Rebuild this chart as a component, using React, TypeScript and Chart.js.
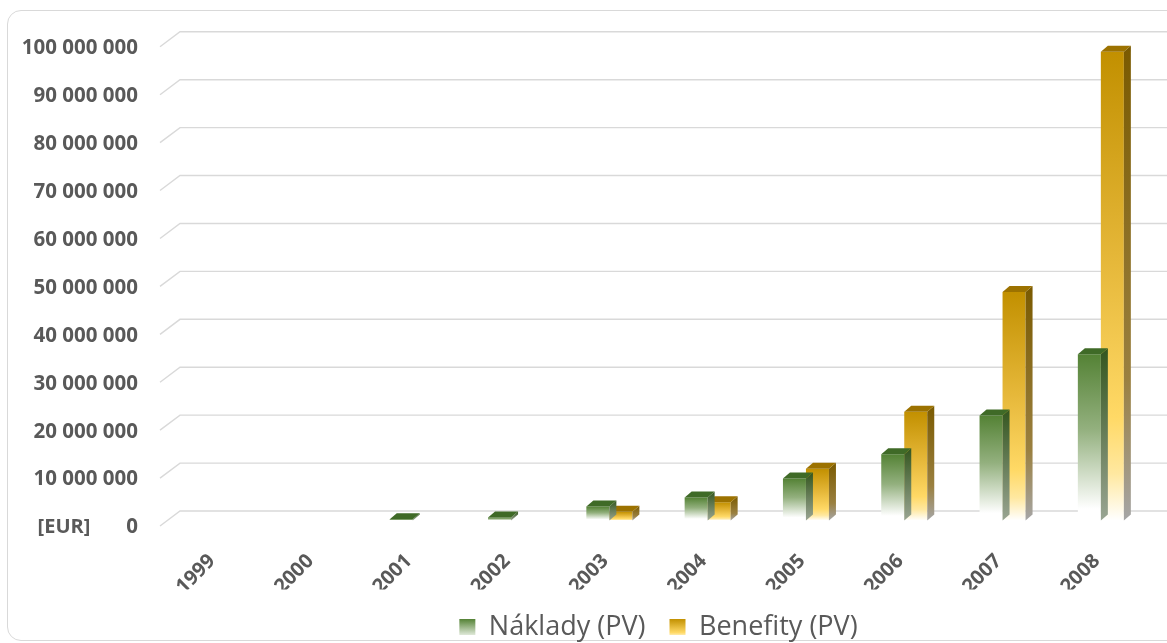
import React, { useEffect, useRef } from "react";
import { Chart, registerables } from "chart.js";

Chart.register(...registerables);

const categories = ["1999", "2000", "2001", "2002", "2003", "2004", "2005", "2006", "2007", "2008"];
const naklady = [0, 0, 250000, 600000, 2900000, 4800000, 8750000, 13800000, 21900000, 34700000];
const benefity = [0, 0, 0, 0, 1800000, 3800000, 10800000, 22700000, 47700000, 97800000];
const seriesNames = ["Náklady (PV)", "Benefity (PV)"];
const axisUnit = "[EUR]";
const yMax = 100000000;
const yStep = 10000000;

const FONT = "'Open Sans', sans-serif";
const TEXT = "#595959";
const DX = 7;
const DY = 6;

const fmt = (v: number) => String(v).replace(/\B(?=(\d{3})+(?!\d))/g, " ");

function frontFill(idx: number) {
  return (c: any) => {
    const chart = c.chart;
    const y = chart.scales && chart.scales.y;
    if (c.type !== "data" || !y || !chart.chartArea) return idx === 0 ? "#548235" : "#E0A800";
    const v = c.parsed ? c.parsed.y : c.raw;
    const top = y.getPixelForValue(v);
    const bot = y.getPixelForValue(0);
    const g = chart.ctx.createLinearGradient(0, top, 0, Math.max(bot, top + 1));
    if (idx === 0) {
      g.addColorStop(0, "#548235");
      g.addColorStop(0.45, "#93b07e");
      g.addColorStop(0.93, "#ffffff");
      g.addColorStop(1, "#ffffff");
    } else {
      g.addColorStop(0, "#C29000");
      g.addColorStop(0.45, "#E6B83A");
      g.addColorStop(0.78, "#FFD966");
      g.addColorStop(0.9, "#FFE8A0");
      g.addColorStop(1, "#FFFFFF");
    }
    return g;
  };
}

const gridPlugin = {
  id: "grid3d",
  beforeDatasetsDraw(chart: any) {
    const { ctx, chartArea, scales } = chart;
    const y = scales.y;
    ctx.save();
    ctx.strokeStyle = "#d9d9d9";
    ctx.lineWidth = 1.4;
    y.ticks.forEach((t: any) => {
      const p = y.getPixelForValue(t.value);
      ctx.beginPath();
      ctx.moveTo(chartArea.left - 7, p + 5.5);
      ctx.lineTo(chartArea.left + 13, p - 9.5);
      ctx.lineTo(chartArea.right + 17, p - 9.5);
      ctx.stroke();
    });
    ctx.restore();
  },
};

const depthPlugin = {
  id: "depth3d",
  afterDatasetDraw(chart: any, args: any) {
    const { ctx } = chart;
    const idx = args.index;
    const meta = args.meta;
    const data = chart.data.datasets[idx].data;
    ctx.save();
    meta.data.forEach((el: any, i: number) => {
      if (!data[i]) return;
      const { x, y, base, width } = el.getProps(["x", "y", "base", "width"], true);
      const l = x - width / 2;
      const r = x + width / 2;
      const sg = ctx.createLinearGradient(0, y - DY, 0, base);
      if (idx === 0) {
        sg.addColorStop(0, "#34561f");
        sg.addColorStop(1, "#9aa592");
      } else {
        sg.addColorStop(0, "#7A5A00");
        sg.addColorStop(0.7, "#9A8040");
        sg.addColorStop(1, "#A6A6A6");
      }
      ctx.fillStyle = sg;
      ctx.beginPath();
      ctx.moveTo(r, y);
      ctx.lineTo(r + DX, y - DY);
      ctx.lineTo(r + DX, base - DY);
      ctx.lineTo(r, base);
      ctx.closePath();
      ctx.fill();
      ctx.fillStyle = idx === 0 ? "#3F6A27" : "#9C7200";
      ctx.beginPath();
      ctx.moveTo(l, y);
      ctx.lineTo(l + DX, y - DY);
      ctx.lineTo(r + DX, y - DY);
      ctx.lineTo(r, y);
      ctx.closePath();
      ctx.fill();
    });
    ctx.restore();
  },
};

const unitPlugin = {
  id: "unitLabel",
  afterDraw(chart: any) {
    const { ctx, scales } = chart;
    ctx.save();
    ctx.font = `bold 20px ${FONT}`;
    ctx.fillStyle = TEXT;
    ctx.textAlign = "center";
    ctx.textBaseline = "middle";
    ctx.fillText(axisUnit, 64, scales.y.getPixelForValue(0) + 7);
    ctx.restore();
  },
};

export default function App() {
  const ref = useRef<HTMLCanvasElement | null>(null);

  useEffect(() => {
    if (!ref.current) return;
    const chart = new Chart(ref.current, {
      type: "bar",
      data: {
        labels: categories,
        datasets: [
          {
            label: seriesNames[0],
            data: naklady,
            backgroundColor: frontFill(0),
            borderWidth: 0,
            categoryPercentage: 0.468,
            barPercentage: 1,
          },
          {
            label: seriesNames[1],
            data: benefity,
            backgroundColor: frontFill(1),
            borderWidth: 0,
            categoryPercentage: 0.468,
            barPercentage: 1,
          },
        ],
      },
      options: {
        animation: false,
        responsive: false,
        devicePixelRatio: 1,
        layout: { padding: { top: 38.5, left: 0, right: 17, bottom: -7.5 } },
        plugins: {
          tooltip: { enabled: false },
          legend: {
            position: "bottom",
            fullSize: false,
            labels: {
              font: { family: FONT, size: 27 },
              color: TEXT,
              boxWidth: 16,
              boxHeight: 16,
              padding: 24,
              generateLabels(chart: any) {
                const items = Chart.defaults.plugins.legend.labels.generateLabels(chart);
                return items.map((it: any, i: number) => {
                  const g = chart.ctx.createLinearGradient(0, 619, 0, 636);
                  if (i === 0) {
                    g.addColorStop(0, "#548235");
                    g.addColorStop(1, "#e8efe3");
                  } else {
                    g.addColorStop(0, "#C29000");
                    g.addColorStop(0.8, "#FFD966");
                    g.addColorStop(1, "#FFF3C8");
                  }
                  return { ...it, fillStyle: g, strokeStyle: "rgba(0,0,0,0)", lineWidth: 0 };
                });
              },
            },
          },
        },
        scales: {
          x: {
            grid: { display: false, drawTicks: false },
            border: { display: false },
            ticks: {
              autoSkip: false,
              maxRotation: 45,
              minRotation: 45,
              padding: 29,
              labelOffset: -4,
              color: TEXT,
              font: { family: FONT, size: 20, weight: "bold" },
            },
            afterFit(s: any) {
              s.height = 69;
            },
          },
          y: {
            min: 0,
            max: yMax,
            grid: { display: false, drawTicks: false },
            border: { display: false },
            ticks: {
              stepSize: yStep,
              padding: 29,
              labelOffset: 7,
              color: TEXT,
              font: { family: FONT, size: 20.5, weight: "bold" },
              callback: (v: any) => fmt(Number(v)),
            },
            afterFit(s: any) {
              s.width = 167;
            },
          },
        },
      },
      plugins: [gridPlugin, depthPlugin, unitPlugin],
    } as any);
    return () => chart.destroy();
  }, []);

  return (
    <div
      style={{
        position: "fixed",
        left: 0,
        top: 0,
        width: 1167,
        height: 643,
        overflow: "hidden",
        background: "#ffffff",
      }}
    >
      <div
        style={{
          position: "absolute",
          left: 7,
          top: 10,
          width: 1300,
          height: 631,
          border: "1px solid #d9d9d9",
          borderRadius: 14,
          boxSizing: "border-box",
        }}
      />
      <canvas ref={ref} width={1167} height={643} style={{ position: "absolute", left: 0, top: 0 }} />
    </div>
  );
}
